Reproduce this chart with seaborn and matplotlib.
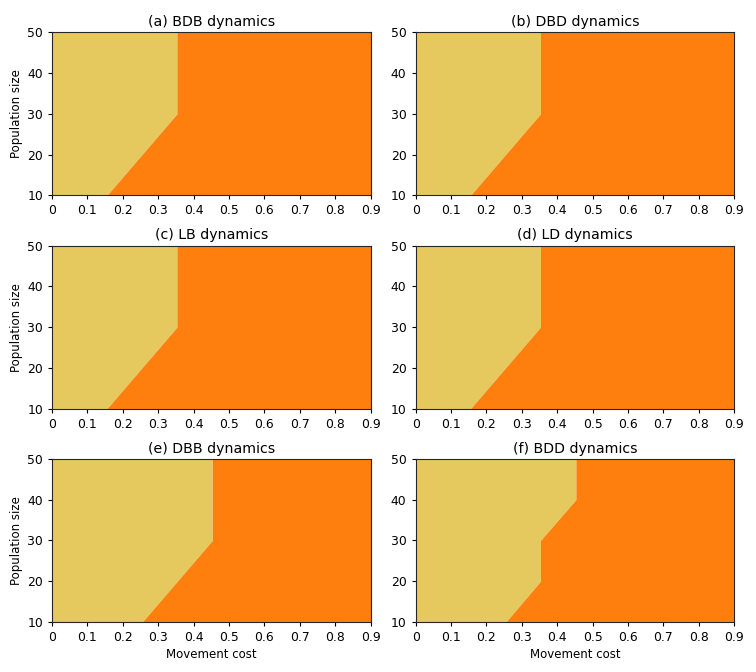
import numpy as np
import pandas as pd
import matplotlib
matplotlib.use("Agg")
import matplotlib.pyplot as plt
import seaborn as sns

# Data: boundary movement cost (between the two regimes) at each population size
population = [10, 20, 30, 40, 50]
titles = ["(a) BDB dynamics", "(b) DBD dynamics", "(c) LB dynamics",
          "(d) LD dynamics", "(e) DBB dynamics", "(f) BDD dynamics"]
boundary_a = [0.155, 0.254, 0.353, 0.353, 0.353]
boundary_b = [0.155, 0.254, 0.353, 0.353, 0.353]
boundary_c = [0.155, 0.254, 0.353, 0.353, 0.353]
boundary_d = [0.155, 0.254, 0.353, 0.353, 0.353]
boundary_e = [0.255, 0.354, 0.453, 0.453, 0.453]
boundary_f = [0.255, 0.353, 0.353, 0.453, 0.453]
boundaries = [boundary_a, boundary_b, boundary_c, boundary_d, boundary_e, boundary_f]
cost_min, cost_max = 0.0, 0.9
xticks = [0, 0.1, 0.2, 0.3, 0.4, 0.5, 0.6, 0.7, 0.8, 0.9]
xticklabels = ["0", "0.1", "0.2", "0.3", "0.4", "0.5", "0.6", "0.7", "0.8", "0.9"]
yticks = [10, 20, 30, 40, 50]

sns.set_style("ticks", {"axes.edgecolor": "0.15", "xtick.color": "0.0", "ytick.color": "0.0",
                        "text.color": "0.0", "axes.labelcolor": "0.0"})
plt.rcParams["font.family"] = ["DejaVu Sans"]
plt.rcParams["xtick.labelsize"] = 8.9
plt.rcParams["ytick.labelsize"] = 8.9
plt.rcParams["axes.labelsize"] = 8.5
plt.rcParams["axes.titlesize"] = 10.2
plt.rcParams["xtick.major.size"] = 3
plt.rcParams["ytick.major.size"] = 3
plt.rcParams["axes.linewidth"] = 0.8

yellow = "#e5c95e"
orange = sns.color_palette("tab10")[1]

fig, axes = plt.subplots(3, 2, figsize=(7.56, 6.72), dpi=100)
fig.subplots_adjust(left=0.0688, right=0.971, top=0.952, bottom=0.0744,
                    wspace=0.1415, hspace=0.307)

for i, ax in enumerate(axes.flat):
    df = pd.DataFrame({"pop": population, "cost": boundaries[i]})
    ax.fill_betweenx(df["pop"], cost_min, df["cost"], color=yellow, linewidth=0)
    ax.fill_betweenx(df["pop"], df["cost"], cost_max, color=orange, linewidth=0)
    ax.set_xlim(cost_min, cost_max)
    ax.set_ylim(10, 50)
    ax.set_xticks(xticks)
    ax.set_xticklabels(xticklabels)
    ax.set_yticks(yticks)
    ax.set_title(titles[i], pad=4.5)
    if i % 2 == 0:
        ax.set_ylabel("Population size", labelpad=3)
    if i >= 4:
        ax.set_xlabel("Movement cost", labelpad=3)

fig.savefig("out.png", dpi=100)
